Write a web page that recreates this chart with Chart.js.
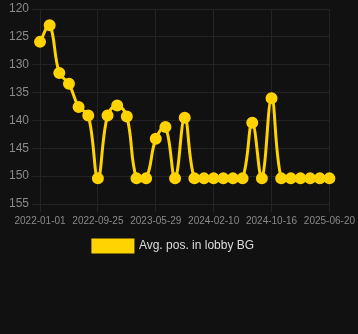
<!DOCTYPE html>
<html>
<head>
<meta charset="utf-8">
<script src="https://cdn.jsdelivr.net/npm/chart.js@4"></script>
<style>
    html, body { margin: 0; padding: 0; background: #111111; }
    #wrap { width: 358px; height: 262px; position: relative; }
</style>
</head>
<body>
<div id="wrap"><canvas id="chart"></canvas></div>
<script>
const dateLabels = [
    '2022-01-01', '2022-02-14', '2022-03-31', '2022-05-15', '2022-06-29', '2022-08-12',
    '2022-09-25', '2022-11-05', '2022-12-16', '2023-01-26', '2023-03-08', '2023-04-18',
    '2023-05-29', '2023-07-11', '2023-08-23', '2023-10-05', '2023-11-17', '2023-12-29',
    '2024-02-10', '2024-03-23', '2024-05-04', '2024-06-15', '2024-07-27', '2024-09-05',
    '2024-10-16', '2024-11-26', '2025-01-06', '2025-02-16', '2025-03-29', '2025-05-09',
    '2025-06-20'
];
const avgPositions = [
    125.9, 122.9, 131.5, 133.4, 137.6, 139.1,
    150.4, 139.1, 137.3, 139.3, 150.4, 150.4,
    143.3, 141.2, 150.4, 139.5, 150.4, 150.4,
    150.4, 150.4, 150.4, 150.4, 140.4, 150.4,
    136.0, 150.4, 150.4, 150.4, 150.4, 150.4,
    150.4
];
const seriesName = 'Avg. pos. in lobby BG';
const yMin = 120;
const yMax = 155;
const yStep = 5;

const lineColor = '#FFD300';
const gridColor = '#242424';
const tickColor = '#8a8a8a';
const fontFamily = "'Liberation Sans', Arial, Helvetica, sans-serif";

new Chart(document.getElementById('chart'), {
    type: 'line',
    data: {
        labels: dateLabels,
        datasets: [{
            label: seriesName,
            data: avgPositions,
            borderColor: lineColor,
            backgroundColor: lineColor,
            pointBackgroundColor: lineColor,
            pointBorderColor: lineColor,
            borderWidth: 3,
            pointRadius: 4.5,
            tension: 0.4,
            fill: false
        }]
    },
    options: {
        responsive: true,
        maintainAspectRatio: false,
        animation: false,
        layout: {
            padding: { left: 6, right: 17, top: 0, bottom: 0 }
        },
        plugins: {
            legend: {
                position: 'bottom',
                labels: {
                    color: '#dddddd',
                    boxWidth: 40,
                    boxHeight: 12,
                    font: { family: fontFamily, size: 12 }
                }
            },
            tooltip: { enabled: false }
        },
        scales: {
            x: {
                grid: { color: gridColor },
                border: { color: gridColor },
                ticks: {
                    color: tickColor,
                    maxRotation: 0,
                    autoSkip: true,
                    maxTicksLimit: 6,
                    font: { family: fontFamily, size: 10 }
                }
            },
            y: {
                reverse: true,
                min: yMin,
                max: yMax,
                grid: { color: gridColor },
                border: { color: gridColor },
                ticks: {
                    stepSize: yStep,
                    color: tickColor,
                    font: { family: fontFamily, size: 12, lineHeight: 1 }
                }
            }
        }
    }
});
</script>
</body>
</html>
